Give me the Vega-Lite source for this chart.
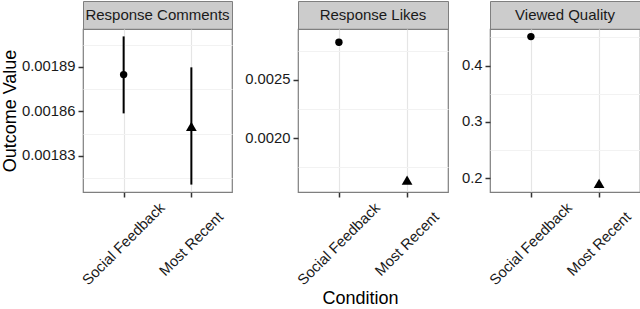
{
  "$schema": "https://vega.github.io/schema/vega-lite/v6.json",
  "padding": {"left": 0, "top": 0, "right": 1, "bottom": 0},
  "datasets": {
    "est": [
      {"metric": "Response Comments", "condition": "Social Feedback", "value": 0.0018848, "lo": 0.0018586, "hi": 0.0019106},
      {"metric": "Response Comments", "condition": "Most Recent", "value": 0.0018498, "lo": 0.0018105, "hi": 0.0018897},
      {"metric": "Response Likes", "condition": "Social Feedback", "value": 0.002823, "lo": 0.002796, "hi": 0.00285},
      {"metric": "Response Likes", "condition": "Most Recent", "value": 0.001642, "lo": 0.001632, "hi": 0.001652},
      {"metric": "Viewed Quality", "condition": "Social Feedback", "value": 0.4515, "lo": 0.4495, "hi": 0.4535},
      {"metric": "Viewed Quality", "condition": "Most Recent", "value": 0.191, "lo": 0.189, "hi": 0.193}
    ]
  },
  "data": {"name": "est"},
  "config": {
    "font": "Liberation Sans",
    "view": {"stroke": "#7f7f7f", "strokeWidth": 1.2},
    "axis": {
      "labelFont": "Liberation Sans", "labelFontSize": 14.8, "labelColor": "#1a1a1a",
      "titleFont": "Liberation Sans", "titleFontSize": 18, "titleFontWeight": "normal", "titleColor": "#000000",
      "tickColor": "#333333", "tickSize": 5, "tickWidth": 1.5, "domain": false,
      "gridColor": "#e5e5e5", "gridWidth": 1.2, "labelPadding": 3
    },
    "axisX": {"labelAngle": -45, "labelAlign": "center", "labelBaseline": "middle", "labelPadding": 47, "grid": true},
    "text": {"font": "Liberation Sans", "fontSize": 15, "color": "#1a1a1a"}
  },
  "spacing": 11,
  "hconcat": [
    {
      "vconcat": [
        {
          "width": 149, "height": 28,
          "transform": [{"filter": "datum.metric == 'Response Comments' && datum.condition == 'Social Feedback'"}],
          "mark": {"type": "text", "baseline": "middle", "align": "center"},
          "encoding": {"text": {"field": "metric"}},
          "view": {"fill": "#cccccc", "stroke": "#7f7f7f"}
        },
        {
          "width": 149, "height": 163,
          "transform": [{"filter": "datum.metric == 'Response Comments'"}],
          "resolve": {"axis": {"y": "independent"}},
          "layer": [
            {
              "mark": {"type": "rule", "strokeWidth": 2, "color": "#000000"},
              "encoding": {
                "x": {"field": "condition", "type": "nominal", "sort": ["Social Feedback", "Most Recent"], "scale": {"type": "point", "padding": 0.6}, "axis": {"title": null}},
                "y": {"field": "lo", "type": "quantitative", "scale": {"domain": [0.0018055, 0.0019156], "nice": false, "zero": false},
                  "axis": {"orient": "left", "values": [0.001815, 0.001845, 0.001875, 0.001905], "labels": false, "ticks": false, "title": null, "gridColor": "#f2f2f2"}},
                "y2": {"field": "hi"}
              }
            },
            {
              "mark": {"type": "point", "filled": true, "opacity": 1, "color": "#000000"},
              "encoding": {
                "x": {"field": "condition", "type": "nominal", "sort": ["Social Feedback", "Most Recent"]},
                "y": {"field": "value", "type": "quantitative", "axis": {"orient": "left", "values": [0.00183, 0.00186, 0.00189], "format": ".5f", "title": "Outcome Value", "titlePadding": 2}},
                "shape": {"field": "condition", "type": "nominal", "scale": {"domain": ["Social Feedback", "Most Recent"], "range": ["circle", "triangle-up"]}, "legend": null},
                "size": {"field": "condition", "type": "ordinal", "scale": {"domain": ["Social Feedback", "Most Recent"], "range": [55, 115]}, "legend": null}
              }
            }
          ]
        }
      ],
      "spacing": 0,
      "bounds": "flush"
    },
    {
      "vconcat": [
        {
          "width": 150, "height": 28,
          "transform": [{"filter": "datum.metric == 'Response Likes' && datum.condition == 'Social Feedback'"}],
          "mark": {"type": "text", "baseline": "middle", "align": "center"},
          "encoding": {"text": {"field": "metric"}},
          "view": {"fill": "#cccccc", "stroke": "#7f7f7f"}
        },
        {
          "width": 150, "height": 163,
          "transform": [{"filter": "datum.metric == 'Response Likes'"}],
          "resolve": {"axis": {"y": "independent"}},
          "layer": [
            {
              "mark": {"type": "rule", "strokeWidth": 2, "color": "#000000"},
              "encoding": {
                "x": {"field": "condition", "type": "nominal", "sort": ["Social Feedback", "Most Recent"], "scale": {"type": "point", "padding": 0.6}, "axis": {"title": "Condition", "titleX": 62, "titlePadding": 2}},
                "y": {"field": "lo", "type": "quantitative", "scale": {"domain": [0.00154, 0.002937], "nice": false, "zero": false},
                  "axis": {"orient": "left", "values": [0.00175, 0.00225, 0.00275], "labels": false, "ticks": false, "title": null, "gridColor": "#f2f2f2"}},
                "y2": {"field": "hi"}
              }
            },
            {
              "mark": {"type": "point", "filled": true, "opacity": 1, "color": "#000000"},
              "encoding": {
                "x": {"field": "condition", "type": "nominal", "sort": ["Social Feedback", "Most Recent"]},
                "y": {"field": "value", "type": "quantitative", "axis": {"orient": "left", "values": [0.002, 0.0025], "format": ".4f", "title": null}},
                "shape": {"field": "condition", "type": "nominal", "scale": {"domain": ["Social Feedback", "Most Recent"], "range": ["circle", "triangle-up"]}, "legend": null},
                "size": {"field": "condition", "type": "ordinal", "scale": {"domain": ["Social Feedback", "Most Recent"], "range": [55, 115]}, "legend": null}
              }
            }
          ]
        }
      ],
      "spacing": 0,
      "bounds": "flush"
    },
    {
      "vconcat": [
        {
          "width": 150, "height": 28,
          "transform": [{"filter": "datum.metric == 'Viewed Quality' && datum.condition == 'Social Feedback'"}],
          "mark": {"type": "text", "baseline": "middle", "align": "center"},
          "encoding": {"text": {"field": "metric"}},
          "view": {"fill": "#cccccc", "stroke": "#7f7f7f"}
        },
        {
          "width": 150, "height": 163,
          "transform": [{"filter": "datum.metric == 'Viewed Quality'"}],
          "resolve": {"axis": {"y": "independent"}},
          "layer": [
            {
              "mark": {"type": "rule", "strokeWidth": 2, "color": "#000000"},
              "encoding": {
                "x": {"field": "condition", "type": "nominal", "sort": ["Social Feedback", "Most Recent"], "scale": {"type": "point", "padding": 0.6}, "axis": {"title": null}},
                "y": {"field": "lo", "type": "quantitative", "scale": {"domain": [0.1757, 0.465], "nice": false, "zero": false},
                  "axis": {"orient": "left", "values": [0.25, 0.35, 0.45], "labels": false, "ticks": false, "title": null, "gridColor": "#f2f2f2"}},
                "y2": {"field": "hi"}
              }
            },
            {
              "mark": {"type": "point", "filled": true, "opacity": 1, "color": "#000000"},
              "encoding": {
                "x": {"field": "condition", "type": "nominal", "sort": ["Social Feedback", "Most Recent"]},
                "y": {"field": "value", "type": "quantitative", "axis": {"orient": "left", "values": [0.2, 0.3, 0.4], "format": ".1f", "title": null}},
                "shape": {"field": "condition", "type": "nominal", "scale": {"domain": ["Social Feedback", "Most Recent"], "range": ["circle", "triangle-up"]}, "legend": null},
                "size": {"field": "condition", "type": "ordinal", "scale": {"domain": ["Social Feedback", "Most Recent"], "range": [55, 115]}, "legend": null}
              }
            }
          ]
        }
      ],
      "spacing": 0,
      "bounds": "flush"
    }
  ]
}
